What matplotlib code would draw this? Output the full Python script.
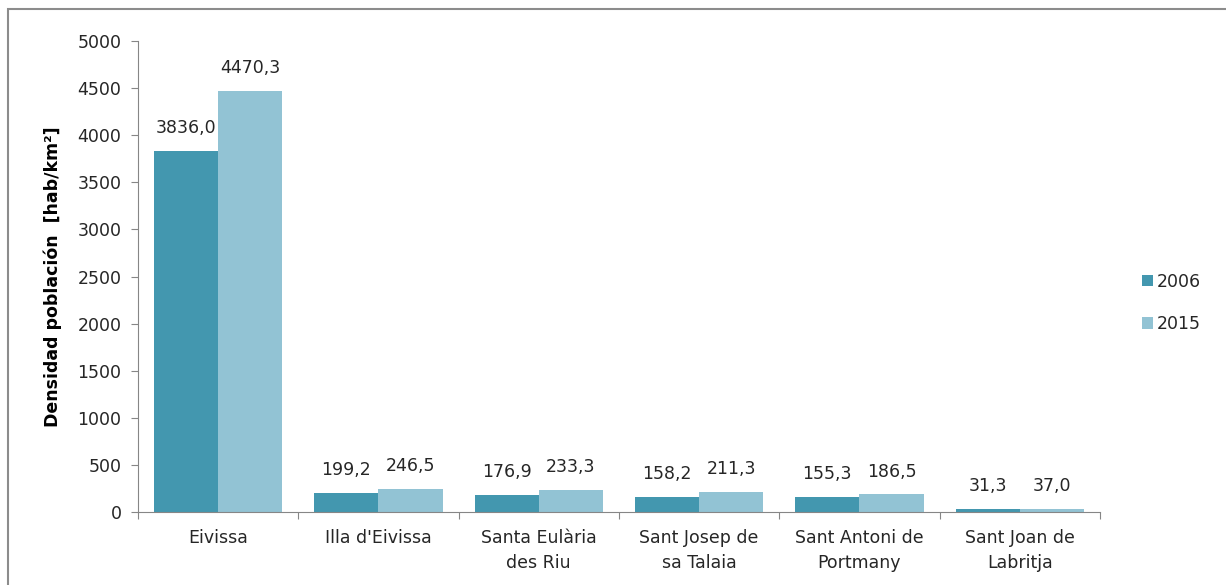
import matplotlib
matplotlib.use("Agg")
import matplotlib.pyplot as plt
from matplotlib.patches import Rectangle
import numpy as np

# densidad de poblacion por municipio
municipios = ["Eivissa", "Illa d'Eivissa", "Santa Eulària\ndes Riu",
              "Sant Josep de\nsa Talaia", "Sant Antoni de\nPortmany", "Sant Joan de\nLabritja"]
dens_2006 = [3836.0, 199.2, 176.9, 158.2, 155.3, 31.3]
dens_2015 = [4470.3, 246.5, 233.3, 211.3, 186.5, 37.0]
años = ["2006", "2015"]
colores = ["#4397AF", "#92C3D4"]

plt.rcParams['font.family'] = ['DejaVu Sans']
gris = "#868686"
txt = "#262626"
fs = 12.5

fig = plt.figure(figsize=(12.26, 5.85), dpi=100)
ax = fig.add_axes([0.1126, 0.1248, 0.7845, 0.8051])

# marco exterior
fig.patches.append(Rectangle((0.0065, -0.1), 1.1, 1.0846, transform=fig.transFigure,
                             fill=False, edgecolor="#8c8c8c", linewidth=1.5))

x = np.arange(len(municipios))
w = 0.4
for i, (vals, lab, col) in enumerate(zip([dens_2006, dens_2015], años, colores)):
    pos = x + (i - 0.5) * w
    ax.bar(pos, vals, width=w, color=col, label=lab, zorder=2)
    for p, v in zip(pos, vals):
        ax.annotate(f"{v:.1f}".replace(".", ","), (p, v), xytext=(0, 10),
                    textcoords="offset points", ha="center", va="bottom",
                    fontsize=fs, color=txt)

ax.set_xlim(-0.5, len(municipios) - 0.5)
ax.set_ylim(0, 5000)
ax.set_yticks(np.arange(0, 5001, 500))
ax.tick_params(axis="y", labelsize=fs, colors=txt, color=gris, length=5, pad=7)

# etiquetas de categoria y marcas entre grupos
ax.set_xticks(np.arange(len(municipios) + 1) - 0.5)
ax.set_xticklabels([])
ax.tick_params(axis="x", color=gris, length=5)
ax.set_xticks(x, minor=True)
ax.set_xticklabels(municipios, minor=True, fontsize=fs, color=txt, linespacing=1.5)
ax.tick_params(axis="x", which="minor", length=0, pad=12)

for s in ["top", "right"]:
    ax.spines[s].set_visible(False)
for s in ["left", "bottom"]:
    ax.spines[s].set_color(gris)

ax.set_ylabel("Densidad población  [hab/km²]", fontsize=12.5, fontweight="bold")
ax.yaxis.set_label_coords(-0.079, 0.5)

leg = ax.legend(loc="center left", bbox_to_anchor=(1.0437, 0.444), frameon=False,
                fontsize=fs, handlelength=0.63, handleheight=0.63, handletextpad=0.23,
                labelspacing=1.4, borderpad=0, borderaxespad=0)
for t in leg.get_texts():
    t.set_color(txt)

fig.savefig("out.png", dpi=100)
